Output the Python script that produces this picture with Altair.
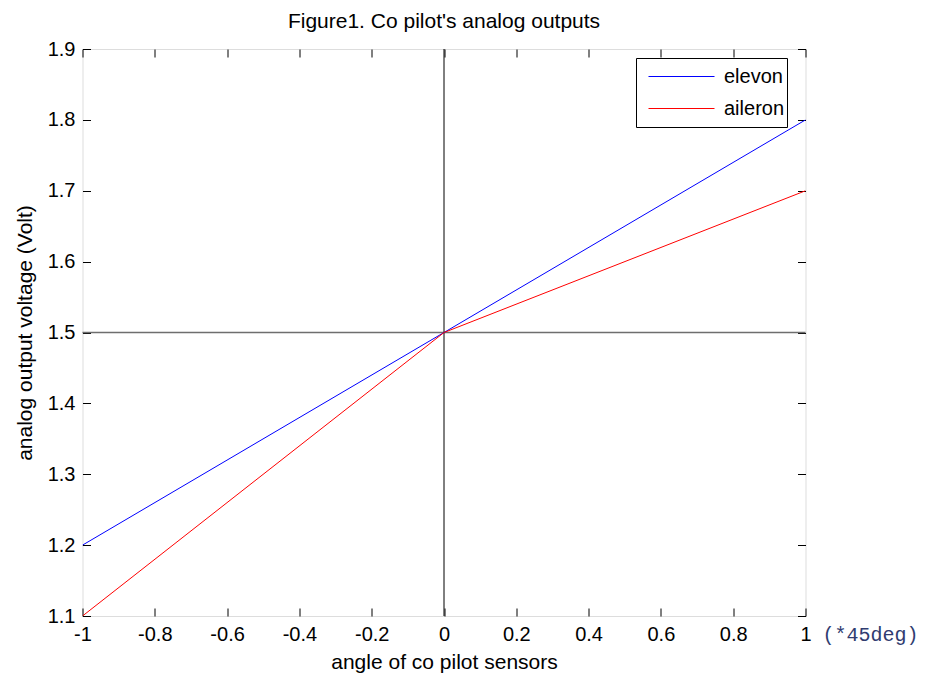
import altair as alt
import pandas as pd

# ---- data ----
angle = [-1.0, 0.0, 1.0]
elevon = [1.2, 1.5, 1.8]
aileron = [1.1, 1.5, 1.7]
series = ["elevon", "aileron"]
colors = ["#0000ff", "#ff0000"]
x_ticks = [-1, -0.8, -0.6, -0.4, -0.2, 0, 0.2, 0.4, 0.6, 0.8, 1]
y_ticks = [1.1, 1.2, 1.3, 1.4, 1.5, 1.6, 1.7, 1.8, 1.9]
x_domain = [-1, 1]
y_domain = [1.1, 1.9]
zero_x = [0]
zero_y = [1.5]
unit_note = ["(*45deg)"]
chart_title = ["Figure1. Co pilot's analog outputs"]

FONT = "Liberation Sans"

rows = []
for name, vals in zip(series, [elevon, aileron]):
    for a, v in zip(angle, vals):
        rows.append({"angle": a, "voltage": v, "series": name})
df = pd.DataFrame(rows)

x_scale = alt.Scale(domain=x_domain, nice=False, zero=False)
y_scale = alt.Scale(domain=y_domain, nice=False, zero=False)


def tick_axis(orient, vals):
    return alt.Axis(orient=orient, values=vals, labels=False, domain=False, grid=False,
                    ticks=True, tickSize=8, tickColor="black", tickWidth=1,
                    offset=-8, title=None)


hrule = alt.Chart(pd.DataFrame({"v": zero_y})).mark_rule(color="#6e6e6e", strokeWidth=1.5).encode(
    y=alt.Y("v:Q", scale=y_scale, axis=None)
)
vrule = alt.Chart(pd.DataFrame({"v": zero_x})).mark_rule(color="black", strokeWidth=1).encode(
    x=alt.X("v:Q", scale=x_scale, axis=None)
)

lines = alt.Chart(df).mark_line(strokeWidth=1, clip=True).encode(
    x=alt.X("angle:Q", scale=x_scale,
            axis=alt.Axis(values=x_ticks, labelExpr="datum.value + ''", ticks=False, tickSize=0,
                          domain=False, grid=False, labelFontSize=20, labelFont=FONT,
                          labelColor="black", labelPadding=8, labelFlush=False, labelOverlap=False,
                          title="angle of co pilot sensors", titleFont=FONT, titleFontSize=21,
                          titleFontWeight="normal", titleColor="black", titlePadding=7)),
    y=alt.Y("voltage:Q", scale=y_scale,
            axis=alt.Axis(values=y_ticks, labelExpr="datum.value + ''", ticks=False, tickSize=0,
                          domain=False, grid=False, labelFontSize=20, labelFont=FONT,
                          labelColor="black", labelPadding=7.5, labelFlush=False, labelOverlap=False,
                          title="analog output voltage (Volt)", titleFont=FONT, titleFontSize=21,
                          titleFontWeight="normal", titleColor="black", titlePadding=12)),
    color=alt.Color("series:N", scale=alt.Scale(domain=series, range=colors),
                    legend=alt.Legend(orient="none", legendX=553.5, legendY=9, title=None,
                                      symbolType="stroke", symbolSize=4356, symbolStrokeWidth=1,
                                      clipHeight=32, rowPadding=0, padding=2.5, labelOffset=9,
                                      symbolOffset=9.5, labelFontSize=20, labelFont=FONT,
                                      labelColor="black", strokeColor="black", fillColor="white",
                                      cornerRadius=0)),
    order=alt.Order("angle:Q"),
)

host_bl = alt.Chart(df).mark_point(opacity=0).encode(
    x=alt.X("angle:Q", scale=x_scale, axis=tick_axis("bottom", x_ticks)),
    y=alt.Y("voltage:Q", scale=y_scale, axis=tick_axis("left", y_ticks)),
)
host_tr = alt.Chart(df).mark_point(opacity=0).encode(
    x=alt.X("angle:Q", scale=x_scale, axis=tick_axis("top", x_ticks)),
    y=alt.Y("voltage:Q", scale=y_scale, axis=tick_axis("right", y_ticks)),
)

note = alt.Chart(pd.DataFrame({"note": unit_note, "x": [x_domain[1]], "y": [y_domain[0]]})).mark_text(
    align="left", baseline="middle", dx=17, dy=19, font="Liberation Mono", fontSize=20,
    color="#303c70"
).encode(
    x=alt.X("x:Q", scale=x_scale, axis=None),
    y=alt.Y("y:Q", scale=y_scale, axis=None),
    text="note:N",
)

title_mark = alt.Chart(pd.DataFrame({"t": chart_title, "x": [sum(x_domain) / 2], "y": [y_domain[1]]})).mark_text(
    align="center", baseline="middle", dy=-27, font=FONT, fontSize=21, color="black"
).encode(
    x=alt.X("x:Q", scale=x_scale, axis=None),
    y=alt.Y("y:Q", scale=y_scale, axis=None),
    text="t:N",
)

chart = alt.layer(hrule, vrule, lines, host_bl, host_tr, note, title_mark).resolve_axis(
    x="independent", y="independent"
).properties(
    width=723,
    height=567,
    autosize=alt.AutoSizeParams(type="none"),
    padding={"left": 74.5, "top": 41, "right": 113.5, "bottom": 59},
).configure_view(stroke="black", strokeWidth=1).configure(background="white")

chart.save("out.html", embed_options={"renderer": "svg", "actions": False})
